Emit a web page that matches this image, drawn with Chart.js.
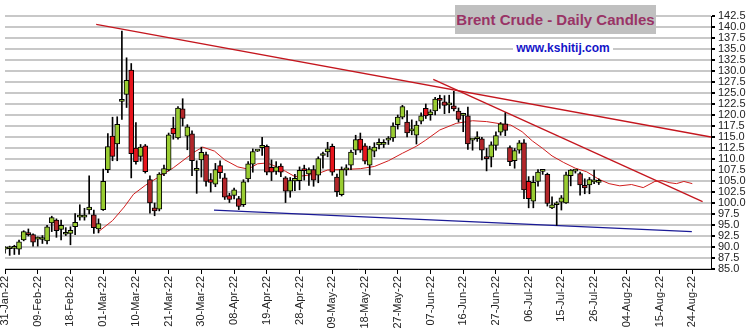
<!DOCTYPE html>
<html>
<head>
<meta charset="utf-8">
<script src="https://cdn.jsdelivr.net/npm/chart.js@4.4.1/dist/chart.umd.min.js"></script>
<style>
  body { margin: 0; background: #fff; }
  #wrap { position: relative; width: 752px; height: 336px; }
  .title {
    position: absolute; left: 455px; top: 5px; width: 201px; height: 29px;
    background: #c0c0c0; color: #993366; text-align: center;
    font: bold 15px "Liberation Sans", Arial, sans-serif; line-height: 29px;
  }
  .site {
    position: absolute; left: 513px; top: 39px; width: 100px; height: 18px;
    background: #fff; color: #1414c8; text-align: center;
    font: bold 12px "Liberation Sans", Arial, sans-serif; line-height: 18px;
  }
</style>
</head>
<body>
<div id="wrap">
  <canvas id="brent" width="752" height="336"></canvas>
  <div class="title">Brent Crude - Daily Candles</div>
  <div class="site">www.kshitij.com</div>
</div>
<script>
// one candle per weekday, day 0 = 31-Jan-22
const opens = [89.5, 89.6, 89.7, 89.5, 91.6, 93.0, 92.8, 91.8, 91.7, 91.4,
  95.5, 96.1, 94.0, 92.9, 93.1, 94.6, 96.8, 96.8, 98.4, 97.3,
  94.1, 98.5, 107.6, 115.2, 113.4, 123.1, 124.7, 130.2, 112.5, 110.6,
  113.0, 105.3, 98.9, 98.6, 106.6, 107.5, 117.0, 114.8, 121.4, 115.2,
  115.7, 107.4, 109.8, 111.0, 105.3, 104.3, 108.5, 105.7, 101.7, 101.7,
  101.0, 99.6, 105.5, 108.8, 111.8, 112.6, 112.9, 108.1, 107.2, 108.4,
  105.7, 102.7, 105.0, 105.1, 107.5, 106.6, 107.6, 106.3, 110.8, 111.6,
  112.9, 105.9, 101.9, 107.5, 108.6, 112.0, 114.5, 113.0, 108.6, 111.8,
  113.2, 113.3, 114.3, 114.8, 117.8, 119.5, 118.4, 116.4, 115.4, 118.6,
  121.5, 120.1, 120.9, 123.8, 123.0, 122.3, 122.1, 120.9, 119.9, 119.8,
  114.3, 114.6, 114.6, 110.2, 110.4, 113.1, 116.1, 118.0, 112.6, 109.6,
  112.0, 113.7, 104.9, 100.4, 104.9, 107.2, 106.5, 98.9, 99.6, 100.2,
  100.0, 106.2, 107.25, 106.7, 104.0, 104.1, 104.8, 104.7];
const highs = [90.1, 90.2, 90.4, 91.6, 93.7, 94.1, 93.0, 92.3, 92.6, 94.9,
  97.0, 96.4, 96.1, 94.4, 94.6, 97.6, 99.6, 98.8, 106.2, 98.4,
  96.4, 107.7, 115.8, 119.5, 119.6, 139.1, 133.0, 131.7, 118.3, 113.3,
  113.3, 106.2, 100.0, 106.9, 108.6, 115.9, 119.5, 121.9, 123.7, 117.8,
  116.4, 109.6, 112.7, 111.6, 106.7, 109.0, 109.6, 106.7, 102.2, 103.4,
  101.5, 105.3, 109.4, 112.3, 112.0, 114.9, 113.2, 109.8, 109.4, 108.9,
  106.0, 105.8, 106.5, 108.2, 108.6, 108.0, 108.5, 110.5, 111.6, 113.8,
  113.4, 106.6, 108.2, 108.7, 112.0, 115.4, 115.9, 113.5, 112.9, 113.7,
  114.6, 114.4, 115.1, 118.2, 120.0, 122.2, 121.0, 118.9, 118.6, 120.5,
  122.5, 121.2, 124.0, 124.5, 124.4, 124.5, 125.4, 121.6, 120.4, 121.8,
  114.6, 116.2, 114.9, 112.4, 113.9, 116.2, 118.3, 120.5, 113.0, 112.4,
  114.2, 114.4, 106.0, 106.1, 107.6, 107.6, 106.8, 101.4, 100.3, 101.7,
  107.0, 107.6, 107.6, 107.0, 105.5, 105.8, 107.5, 105.5];
const lows = [88.6, 88.1, 88.3, 88.3, 91.4, 92.5, 90.2, 90.2, 90.8, 90.7,
  93.5, 92.2, 91.6, 92.6, 90.5, 92.8, 96.1, 96.1, 97.5, 93.1,
  93.2, 98.3, 106.9, 109.6, 109.6, 119.0, 121.7, 105.7, 108.8, 109.5,
  106.8, 97.7, 97.1, 98.2, 106.2, 107.3, 114.5, 114.5, 117.5, 112.1,
  106.2, 102.2, 105.9, 103.8, 102.5, 103.7, 105.6, 100.8, 100.1, 100.9,
  98.5, 99.2, 104.8, 107.0, 111.7, 110.8, 106.4, 105.1, 106.5, 106.0,
  100.1, 101.3, 102.8, 103.0, 105.2, 104.0, 103.8, 104.6, 107.9, 110.5,
  106.3, 101.5, 101.6, 106.3, 107.6, 111.0, 111.5, 108.9, 106.4, 110.5,
  112.3, 112.6, 113.3, 114.0, 116.8, 119.1, 115.0, 115.5, 113.4, 118.0,
  119.2, 118.8, 120.0, 121.5, 120.3, 120.5, 120.9, 118.4, 116.2, 112.2,
  112.0, 114.0, 109.8, 107.3, 108.2, 112.0, 115.4, 115.3, 108.5, 107.9,
  111.3, 101.0, 98.9, 98.9, 103.8, 106.5, 99.3, 98.7, 94.9, 98.4,
  99.9, 103.9, 106.8, 101.8, 102.1, 102.1, 104.4, 104.2];
const closes = [89.7, 89.75, 89.9, 91.2, 93.5, 92.8, 91.1, 91.95, 92.0, 94.6,
  96.7, 93.7, 94.9, 93.1, 93.8, 95.6, 96.95, 96.95, 99.1, 94.4,
  95.3, 104.9, 112.8, 110.6, 117.9, 123.3, 127.9, 111.2, 109.4, 112.7,
  107.1, 100.0, 98.2, 106.6, 107.8, 115.5, 115.7, 121.6, 119.2, 117.3,
  109.6, 107.55, 111.5, 104.9, 104.7, 107.6, 106.9, 101.3, 100.8, 103.0,
  99.2, 104.8, 108.9, 111.7, 111.95, 113.1, 107.0, 107.0, 108.2, 107.0,
  102.7, 105.1, 105.6, 107.4, 107.35, 107.6, 105.2, 110.1, 110.95, 112.3,
  107.0, 102.6, 107.6, 108.0, 111.6, 114.4, 112.0, 109.5, 112.3, 112.7,
  113.8, 113.8, 114.5, 117.5, 119.5, 121.9, 115.9, 116.6, 117.7, 119.8,
  119.8, 120.7, 123.6, 123.3, 122.2, 122.45, 121.4, 119.0, 120.05, 113.4,
  114.4, 114.7, 112.0, 110.1, 113.2, 115.3, 118.0, 116.5, 109.4, 111.9,
  113.7, 103.0, 101.0, 104.7, 107.0, 107.35, 99.9, 99.6, 99.75, 101.2,
  106.4, 107.5, 107.35, 104.1, 103.4, 105.3, 104.9, 104.8];

// moving average, drawn shifted forward past the last candle
const maDays = [20, 23, 25.5, 27.5, 30, 33, 36, 38.5, 40.5, 42.3,
  44.8, 47, 49.8, 52, 54, 56, 57.5, 60, 62, 64,
  67, 69, 72, 76, 79, 82, 85, 88, 90, 93,
  96.5, 100, 103, 106, 108.2, 110.6, 112.8, 115, 117, 119.5,
  122, 124.4, 127, 129.2, 131.5, 134, 136.5, 139, 140.5, 142.2,
  143.6, 145.2, 147];
const maValues = [93.5, 96.0, 99.1, 102.0, 104.0, 106.0, 108.0, 110.0, 111.6, 112.7,
  111.8, 109.8, 108.2, 107.7, 108.9, 109.1, 108.5, 107.2, 106.0, 106.2,
  106.7, 107.5, 107.6, 107.8, 108.3, 109.6, 111.3, 112.9, 114.3, 116.6,
  118.1, 118.7, 118.5, 118.0, 117.7, 116.2, 114.1, 112.4, 110.7, 109.2,
  107.9, 107.1, 105.4, 104.4, 103.9, 104.2, 103.5, 104.9, 105.1, 104.6,
  104.4, 104.9, 104.4];

// trend lines: [start, end]
const longTrendDays = [19.5, 151];
const longTrendLevels = [140.6, 115.0];
const shortTrendDays = [91.6, 149.2];
const shortTrendLevels = [128.1, 100.3];
const supportDays = [44.7, 146.9];
const supportLevels = [98.4, 93.5];

const xLabels = ['31-Jan-22', '09-Feb-22', '18-Feb-22', '01-Mar-22', '10-Mar-22',
  '21-Mar-22', '30-Mar-22', '08-Apr-22', '19-Apr-22', '28-Apr-22', '09-May-22',
  '18-May-22', '27-May-22', '07-Jun-22', '16-Jun-22', '27-Jun-22', '06-Jul-22',
  '15-Jul-22', '26-Jul-22', '04-Aug-22', '15-Aug-22', '24-Aug-22'];

const FONT = 'Liberation Sans';

const pts = (xs, ys) => xs.map((x, i) => ({ x: x, y: ys[i] }));

const wickData = highs.map((h, i) => ({ x: i, y: [lows[i], h] }));
const bodyData = opens.map((o, i) => ({ x: i, y: [o, closes[i]] }));
const bodyColors = opens.map((o, i) => {
  if (closes[i] >= o) return '#9acd32';
  return i > 0 && o > closes[i - 1] ? '#e8141c' : '#b3262a';
});

const lineDs = (data, color, width) => ({
  type: 'line',
  data: data,
  borderColor: color,
  borderWidth: width,
  pointRadius: 0,
  tension: 0,
  order: 5,
});

new Chart(document.getElementById('brent'), {
  type: 'bar',
  data: {
    datasets: [
      lineDs(pts(maDays, maValues), '#d01e1e', 1),
      lineDs(pts(longTrendDays, longTrendLevels), '#c4161e', 1.3),
      lineDs(pts(shortTrendDays, shortTrendLevels), '#c4161e', 1.3),
      lineDs(pts(supportDays, supportLevels), '#1a1a96', 1.3),
      {
        data: wickData,
        backgroundColor: '#000',
        barThickness: 1,
        grouped: false,
        order: 3,
      },
      {
        data: bodyData,
        backgroundColor: bodyColors,
        borderColor: '#000',
        borderWidth: 1,
        borderSkipped: false,
        barThickness: 5,
        minBarLength: 2,
        grouped: false,
        order: 2,
      },
    ],
  },
  options: {
    responsive: false,
    animation: false,
    layout: { padding: { left: 5, top: 16, right: 0, bottom: 0 } },
    plugins: {
      legend: { display: false },
      tooltip: { enabled: false },
    },
    scales: {
      x: {
        type: 'linear',
        min: 0,
        max: 151,
        offset: false,
        grid: { drawOnChartArea: false, offset: false, tickLength: 5, tickColor: '#000' },
        border: { color: '#000', width: 1 },
        ticks: {
          stepSize: 7,
          autoSkip: false,
          includeBounds: false,
          maxRotation: 90,
          minRotation: 90,
          padding: 2,
          color: '#222',
          font: { family: FONT, size: 11 },
          callback: (v) => xLabels[v / 7] ?? '',
        },
        afterFit: (s) => { s.height = 67; },
      },
      y: {
        position: 'right',
        min: 85,
        max: 142.5,
        grid: { color: '#c8c8c8', lineWidth: 2, tickLength: 4, tickColor: '#000' },
        border: { color: '#000', width: 1 },
        ticks: {
          stepSize: 2.5,
          autoSkip: false,
          padding: 3,
          color: '#222',
          font: { family: FONT, size: 11, lineHeight: 1 },
          callback: (v) => v.toFixed(1),
        },
        afterFit: (s) => { s.width = 41; },
      },
    },
  },
});
</script>
</body>
</html>
